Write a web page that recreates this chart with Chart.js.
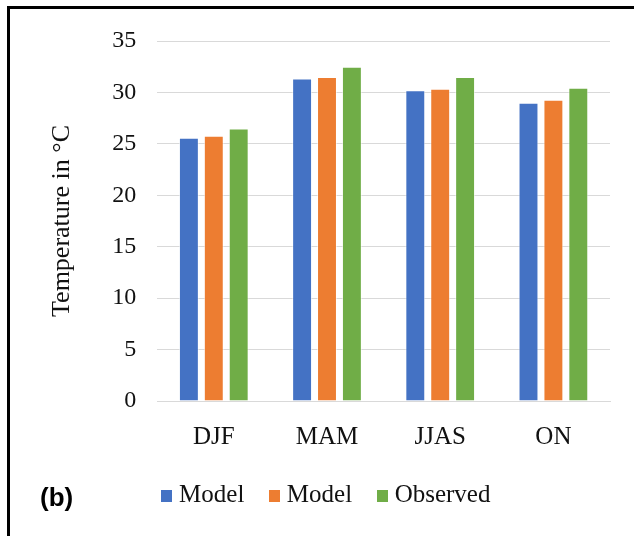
<!DOCTYPE html>
<html>
<head>
<meta charset="utf-8">
<script src="https://cdn.jsdelivr.net/npm/chart.js@4/dist/chart.umd.min.js"></script>
<style>
  html, body { margin: 0; padding: 0; background: #fff; }
  #wrap { width: 634px; height: 536px; position: relative; }
</style>
</head>
<body>
<div id="wrap"><canvas id="c" width="634" height="536"></canvas></div>
<script>
// Seasons and mean temperatures (°C)
const seasons = ['DJF', 'MAM', 'JJAS', 'ON'];
const modelA = [25.6, 31.35, 30.2, 29.0];
const modelB = [25.8, 31.5, 30.35, 29.3];
const observed = [26.5, 32.5, 31.5, 30.45];
const seriesNames = ['Model', 'Model', 'Observed'];
const yTicks = [0, 5, 10, 15, 20, 25, 30, 35];

const serif = "'Liberation Serif', 'Times New Roman', serif";
const colors = ['#4472C4', '#ED7D31', '#70AD47'];
const values = [modelA, modelB, observed];

// Small solid squares used as legend markers, so the label sits close to its swatch
function swatch(color) {
  const c = document.createElement('canvas');
  c.width = 11;
  c.height = 12;
  const g = c.getContext('2d');
  g.fillStyle = color;
  g.fillRect(0, 0, 11, 12);
  return c;
}
const swatches = colors.map(swatch);

// Frame lines and the panel tag
const panelFrame = {
  id: 'panelFrame',
  afterDraw(chart) {
    const ctx = chart.ctx;
    ctx.save();
    ctx.fillStyle = '#000';
    ctx.fillRect(7, 6, 627, 3);
    ctx.fillRect(7, 6, 3, 530);
    ctx.font = "bold 26px 'Liberation Sans', Arial, sans-serif";
    ctx.textBaseline = 'alphabetic';
    ctx.fillText('(b)', 40, 506);
    ctx.restore();
  }
};

new Chart(document.getElementById('c'), {
  type: 'bar',
  data: {
    labels: seasons,
    datasets: values.map((v, i) => ({
      label: seriesNames[i],
      data: v,
      backgroundColor: colors[i],
      borderColor: 'rgba(255,255,255,0.55)',
      borderWidth: 1,
      barPercentage: 0.8,
      categoryPercentage: 0.66
    }))
  },
  options: {
    responsive: false,
    animation: false,
    devicePixelRatio: 1,
    layout: { padding: { left: 47, right: 24, top: 41, bottom: 18 } },
    plugins: {
      legend: {
        position: 'bottom',
        labels: {
          usePointStyle: true,
          pointStyleWidth: 0.01,
          boxHeight: 12,
          padding: 30,
          color: '#111',
          font: { family: serif, size: 25 },
          generateLabels(chart) {
            const items = Chart.defaults.plugins.legend.labels.generateLabels(chart);
            items.forEach((it, i) => { it.pointStyle = swatches[i]; });
            return items;
          }
        }
      },
      tooltip: { enabled: false }
    },
    scales: {
      x: {
        grid: { display: false, drawTicks: false },
        border: { display: true, color: '#D9D9D9', width: 1 },
        ticks: { color: '#111', padding: 21, font: { family: serif, size: 25 } },
        afterFit(scale) { scale.height = 52; }
      },
      y: {
        min: 0,
        max: 35,
        afterBuildTicks(scale) { scale.ticks = yTicks.map(v => ({ value: v })); },
        grid: { color: '#D9D9D9', lineWidth: 1, drawTicks: false },
        border: { display: false },
        ticks: { color: '#111', padding: 21, font: { family: serif, size: 24 } },
        title: {
          display: true,
          text: 'Temperature in °C',
          color: '#111',
          padding: { top: 0, bottom: 13 },
          font: { family: serif, size: 26 }
        }
      }
    }
  },
  plugins: [panelFrame]
});
</script>
</body>
</html>
